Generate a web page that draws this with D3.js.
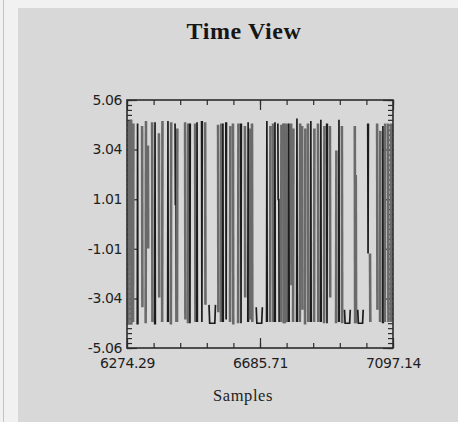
<!DOCTYPE html>
<html>
<head>
<meta charset="utf-8">
<script src="https://cdn.jsdelivr.net/npm/d3@7"></script>
<style>
  html, body { margin: 0; padding: 0; background: #f1f1f1; }
  svg { display: block; }
</style>
</head>
<body>
<svg id="chart" width="458" height="422"></svg>
<script>
// ---- chart data ----
const chartTitle = "Time View";
const xAxisTitle = "Samples";
const xTickValues = [6274.29, 6685.71, 7097.14];
const xTickLabels = ["6274.29", "6685.71", "7097.14"];
const yTickValues = [5.06, 3.04, 1.01, -1.01, -3.04, -5.06];
const yTickLabels = ["5.06", "3.04", "1.01", "-1.01", "-3.04", "-5.06"];

// Signal trace: sample number and amplitude; null marks a break in the trace.
const sampleNo = [
  6279, 6280, null,   6287, 6288, null,   6293, 6294, null,   6306, 6307, 6308, null,
  6321, 6322, null,   6332, 6333, null,   6339, 6340, null,   6352, 6353, null,
  6360, 6361, 6362, null,   6373, 6374, null,   6383, 6384, null,   6400, 6401, 6402, null,
  6410, 6411, null,   6423, 6424, 6426, 6427, null,   6429, 6430, null,
  6454, 6455, null,   6463, 6464, null,   6468, 6469, 6470, null,   6485, 6486, null,
  6490, 6491, 6492, null,   6505, 6506, 6507, null,   6516, 6517, null,
  6528, 6530, 6546, 6548, null,
  6556, 6557, null,   6565, 6566, null,   6570, 6571, 6572, null,   6580, 6581, 6582, null,
  6593, 6594, null,   6602, 6603, null,   6618, 6619, null,   6626, 6627, 6628, null,
  6639, 6640, null,   6648, 6649, 6650, null,   6655, 6656, null,   6661, 6662, null,
  6674, 6676, 6691, 6693, null,
  6706, 6707, 6708, null,   6717, 6718, null,   6726, 6727, null,   6731, 6732, 6733, null,
  6741, 6742, 6744, 6745, null,   6751, 6752, null,   6758, 6759, null,   6762, 6763, null,
  6769, 6770, null,   6774, 6775, 6776, null,   6782, 6783, null,   6788, 6789, null,
  6799, 6800, 6801, null,   6809, 6810, null,   6816, 6817, null,   6825, 6826, null,
  6834, 6835, null,   6842, 6843, 6844, null,   6853, 6854, null,   6865, 6866, null,
  6873, 6874, 6875, null,   6884, 6885, null,   6892, 6893, 6894, null,   6902, 6903, null,
  6921, 6922, null,   6929, 6930, 6931, null,   6939, 6940, null,
  6947, 6949, 6963, 6965, null,
  6979, 6980, null,   6982, 6983, null,
  6988, 6990, 7003, 7005, null,
  7019, 7020, 7021, null,   7026, 7027, null,
  7048, 7049, null,   7057, 7058, null,   7065, 7066, 7067, null,   7072, 7073, null,
  7082, 7083, null,   7091, 7092
];
const amplitude = [
  -4.10, 4.20, null,   4.25, -4.10, null,   -4.00, 4.10, null,   -4.10, 4.10, -4.10, null,
  4.00, -3.40, null,   -4.05, 4.20, null,   3.20, -1.00, null,   4.15, -4.00, null,
  -4.10, 4.15, -4.10, null,   3.70, -3.00, null,   -4.00, 4.20, null,   -4.00, 4.20, -4.00, null,
  -4.10, 4.15, null,   4.10, 0.80, 0.80, -4.00, null,   -4.00, 3.90, null,
  4.15, -3.90, null,   -4.05, 4.10, null,   4.10, -4.05, 4.10, null,   4.10, -4.00, null,
  -4.00, 4.15, -4.00, null,   4.20, -4.00, 4.20, null,   4.15, -3.30, null,
  -3.30, -4.05, -4.05, -3.30, null,
  4.05, -3.60, null,   -4.00, 4.10, null,   -4.00, 4.10, -4.00, null,   4.15, -3.90, 4.15, null,
  -4.00, 4.00, null,   4.10, -4.10, null,   -4.05, 4.10, null,   4.10, -4.05, 4.10, null,
  4.00, -3.00, null,   -4.00, 4.15, -4.00, null,   -3.90, 3.90, null,   4.10, -4.00, null,
  -3.40, -4.05, -4.05, -3.40, null,
  -4.00, 4.20, -4.00, null,   -4.00, 4.00, null,   4.10, -4.00, null,   -4.00, 4.15, -4.00, null,
  4.10, 1.00, 1.00, -4.00, null,   -4.00, 4.05, null,   4.10, -4.05, null,   4.10, -4.05, null,
  -4.00, 4.10, null,   -4.00, 4.10, -4.00, null,   4.10, -2.50, null,   -4.00, 3.90, null,
  -4.00, 4.30, -4.00, null,   -4.00, 4.10, null,   4.00, -3.50, null,   -4.10, 3.90, null,
  4.10, -4.00, null,   -4.00, 4.20, -4.00, null,   -4.00, 3.90, null,   4.10, -4.00, null,
  -4.00, 4.25, -4.00, null,   -4.05, 4.00, null,   4.10, -4.05, 4.10, null,   4.00, -3.00, null,
  -4.05, 3.00, null,   -4.00, 4.25, -4.00, null,   4.00, -4.05, null,
  -3.50, -4.05, -4.05, -3.50, null,
  4.00, -4.05, null,   2.00, -4.05, null,
  -3.50, -4.05, -4.05, -3.50, null,
  4.10, -1.20, 4.10, null,   -1.20, -4.00, null,
  4.10, -3.50, null,   -4.00, 3.80, null,   -4.05, 4.00, -4.05, null,   -4.00, 4.10, null,
  4.10, -4.00, null,   -4.00, 4.10
];

// ---- layout ----
const W = 458, H = 422;
const plot = { left: 127, right: 393, top: 100, bottom: 348 };

const svg = d3.select("#chart");

// outer frame and grey panel
svg.append("rect").attr("x", 0).attr("y", 0).attr("width", W).attr("height", H).attr("fill", "#f1f1f1");
svg.append("line").attr("x1", 3.5).attr("x2", 3.5).attr("y1", 0).attr("y2", H)
  .attr("stroke", "#c4c4c4").attr("stroke-width", 1);
svg.append("rect").attr("x", 18).attr("y", 8).attr("width", W - 18).attr("height", H - 8)
  .attr("fill", "#d8d8d8");

const x = d3.scaleLinear().domain([xTickValues[0], xTickValues[2]]).range([plot.left, plot.right]);
const y = d3.scaleLinear().domain([yTickValues[5], yTickValues[0]]).range([plot.bottom, plot.top]);

// minor tick positions: 5 steps per x interval, 10 per y interval
const xMinor = d3.range(0, 11).map(i => x.domain()[0] + i * (x.domain()[1] - x.domain()[0]) / 10);
const yMinor = d3.range(0, 51).map(i => y.domain()[0] + i * (y.domain()[1] - y.domain()[0]) / 50);

const axisColor = "#2c2c2c";
const majorLen = 10, minorLen = 5;

function styleAxis(g) {
  g.select(".domain").remove();
  g.selectAll(".tick line").attr("stroke", axisColor).attr("stroke-width", 1.2);
  g.selectAll("text")
    .attr("fill", "#1e1e1e")
    .style("font-family", "'DejaVu Sans', sans-serif")
    .style("font-size", "14px")
    .style("letter-spacing", "-0.4px");
}

// minor ticks on all four sides (inward)
[
  [d3.axisLeft(y), plot.left, 0, yMinor],
  [d3.axisRight(y), plot.right, 0, yMinor],
  [d3.axisTop(x), 0, plot.top, xMinor],
  [d3.axisBottom(x), 0, plot.bottom, xMinor]
].forEach(([ax, tx, ty, vals]) => {
  svg.append("g").attr("transform", `translate(${tx},${ty})`)
    .call(ax.tickValues(vals).tickSize(-minorLen).tickSizeOuter(0).tickFormat(""))
    .call(styleAxis);
});

// major ticks with labels
svg.append("g").attr("transform", `translate(${plot.left},0)`)
  .call(d3.axisLeft(y).tickValues(yTickValues).tickSize(-majorLen).tickSizeOuter(0)
    .tickPadding(5).tickFormat((d, i) => yTickLabels[i]))
  .call(styleAxis);
svg.append("g").attr("transform", `translate(${plot.right},0)`)
  .call(d3.axisRight(y).tickValues(yTickValues).tickSize(-majorLen).tickSizeOuter(0).tickFormat(""))
  .call(styleAxis);
svg.append("g").attr("transform", `translate(0,${plot.top})`)
  .call(d3.axisTop(x).tickValues(xTickValues).tickSize(-majorLen).tickSizeOuter(0).tickFormat(""))
  .call(styleAxis);
svg.append("g").attr("transform", `translate(0,${plot.bottom})`)
  .call(d3.axisBottom(x).tickValues(xTickValues).tickSize(-majorLen).tickSizeOuter(0)
    .tickPadding(10).tickFormat((d, i) => xTickLabels[i]))
  .call(styleAxis);

// signal trace, drawn run by run: quick up-and-down spikes read darker than single edges
const points = sampleNo.map((s, i) => ({ s, v: amplitude[i] }));
const runs = [];
let cur = [];
points.forEach(p => {
  if (p.v === null) { if (cur.length) runs.push(cur); cur = []; }
  else cur.push(p);
});
if (cur.length) runs.push(cur);

const line = d3.line().x(d => x(d.s)).y(d => y(d.v));

svg.append("g")
  .selectAll("path")
  .data(runs)
  .join("path")
  .attr("d", line)
  .attr("fill", "none")
  .attr("stroke", d => d.length > 2 ? "#1c1c1c" : "#6a6a6a")
  .attr("stroke-width", d => d.length > 2 ? 1.7 : 2.6)
  .attr("stroke-linejoin", "miter");

// plot frame
svg.append("rect")
  .attr("x", plot.left).attr("y", plot.top)
  .attr("width", plot.right - plot.left).attr("height", plot.bottom - plot.top)
  .attr("fill", "none").attr("stroke", axisColor).attr("stroke-width", 1.6);

// titles
svg.append("text")
  .attr("x", 244).attr("y", 39)
  .attr("text-anchor", "middle")
  .style("font-family", "'Liberation Serif', serif")
  .style("font-weight", "bold")
  .style("font-size", "24px")
  .style("letter-spacing", "0.6px")
  .attr("fill", "#161616")
  .text(chartTitle);

svg.append("text")
  .attr("x", 243).attr("y", 401)
  .attr("text-anchor", "middle")
  .style("font-family", "'Liberation Serif', serif")
  .style("font-size", "16.5px")
  .style("letter-spacing", "0.6px")
  .attr("fill", "#1e1e1e")
  .text(xAxisTitle);
</script>
</body>
</html>
